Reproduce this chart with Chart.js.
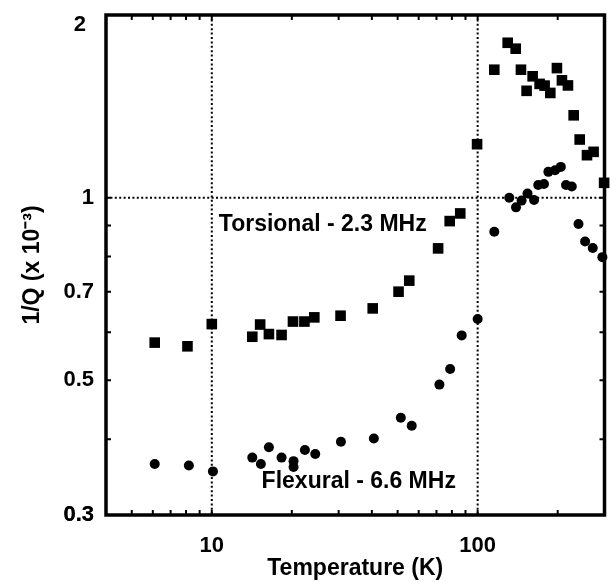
<!DOCTYPE html>
<html>
<head>
<meta charset="utf-8">
<script src="https://cdn.jsdelivr.net/npm/chart.js@4.4.1/dist/chart.umd.min.js"></script>
<style>
  html, body { margin: 0; padding: 0; background: #fff; }
  #chart { display: block; }
</style>
</head>
<body>
<canvas id="chart" width="612" height="582"></canvas>
<script>
// torsional mode, 2.3 MHz (squares)
const torsionalT = [6.1, 8.1, 10, 14.2, 15.2, 16.4, 18.3, 20.2, 22.3, 24.3, 30.5, 40.3, 50.4, 55.3,
  71, 78.5, 86, 99.5, 115.5, 129.7, 139, 145.5, 152.8, 161, 171, 178.6, 187.6, 198.7, 207.5,
  218.6, 229.7, 242, 257.8, 273, 299];
const torsionalQ = [0.577, 0.569, 0.619, 0.59, 0.618, 0.596, 0.594, 0.625, 0.625, 0.635, 0.639, 0.657, 0.70, 0.73,
  0.825, 0.915, 0.942, 1.225, 1.625, 1.80, 1.76, 1.625, 1.50, 1.585, 1.54, 1.53, 1.488, 1.635, 1.561,
  1.531, 1.367, 1.247, 1.175, 1.19, 1.058];

// flexural mode, 6.6 MHz (circles)
const flexuralT = [6.1, 8.2, 10.1, 14.2, 15.3, 16.4, 18.3, 20.3, 20.3, 22.4, 24.5, 30.6, 40.7, 51.4, 56.5,
  71.8, 78.8, 87.1, 100, 115.5, 131.5, 139.4, 146.3, 154, 163, 169, 177.6, 184.5, 195.5, 205.5,
  215, 226, 239.5, 253.6, 271, 294.5];
const flexuralQ = [0.364, 0.362, 0.354, 0.373, 0.364, 0.388, 0.373, 0.368, 0.360, 0.384, 0.378, 0.396, 0.401, 0.434, 0.421,
  0.492, 0.522, 0.593, 0.631, 0.879, 1.0, 0.964, 0.989, 1.016, 0.991, 1.049, 1.053, 1.103, 1.11, 1.124,
  1.049, 1.043, 0.905, 0.847, 0.826, 0.798];

const xTickLabels = [10, 100];
const yTickLabels = [0.3, 0.5, 0.7, 1];
const xMinorTicks = [5, 6, 7, 8, 9, 10, 20, 30, 40, 50, 60, 70, 80, 90, 100, 200];
const yMinorTicks = [0.4, 0.5, 0.6, 0.7, 0.8, 0.9, 1];

const FONT = '"Liberation Sans", Arial, Helvetica, sans-serif';

const toPoints = (xs, ys) => xs.map((x, i) => ({ x: x, y: ys[i] }));

// dotted grid lines, heavy frame with inward ticks, and the text labels
const framePlugin = {
  id: 'frame',
  beforeDatasetsDraw(chart) {
    const { ctx, chartArea: a, scales: { x, y } } = chart;
    ctx.save();
    ctx.strokeStyle = '#000';
    ctx.lineWidth = 2;
    ctx.setLineDash([2, 2.4]);
    xTickLabels.forEach((v) => {
      const px = x.getPixelForValue(v);
      ctx.beginPath();
      ctx.moveTo(px, a.top);
      ctx.lineTo(px, a.bottom);
      ctx.stroke();
    });
    const py = y.getPixelForValue(1);
    ctx.beginPath();
    ctx.moveTo(a.left, py);
    ctx.lineTo(a.right, py);
    ctx.stroke();
    ctx.restore();
  },
  afterDatasetsDraw(chart) {
    const { ctx, chartArea: a, scales: { x, y } } = chart;
    ctx.save();
    ctx.strokeStyle = '#000';
    ctx.lineWidth = 2;
    const tl = 5;
    xMinorTicks.forEach((v) => {
      const px = x.getPixelForValue(v);
      ctx.beginPath();
      ctx.moveTo(px, a.bottom);
      ctx.lineTo(px, a.bottom - tl);
      ctx.moveTo(px, a.top);
      ctx.lineTo(px, a.top + tl);
      ctx.stroke();
    });
    yMinorTicks.forEach((v) => {
      const py = y.getPixelForValue(v);
      ctx.beginPath();
      ctx.moveTo(a.left, py);
      ctx.lineTo(a.left + tl, py);
      ctx.moveTo(a.right, py);
      ctx.lineTo(a.right - tl, py);
      ctx.stroke();
    });
    ctx.lineWidth = 3.5;
    ctx.strokeRect(a.left, a.top, a.right - a.left, a.bottom - a.top);

    ctx.fillStyle = '#000';
    ctx.font = 'bold 23px ' + FONT;
    ctx.textBaseline = 'middle';
    ctx.textAlign = 'left';
    ctx.fillText('Torsional - 2.3 MHz', x.getPixelForValue(10) + 7, y.getPixelForValue(1) + 27);
    ctx.fillText('Flexural - 6.6 MHz', x.getPixelForValue(15) + 3, y.getPixelForValue(0.3) - 33);

    // the "2" label sits a little below its tick in the original
    ctx.font = 'bold 22px ' + FONT;
    ctx.textAlign = 'right';
    ctx.fillText('2', a.left - 20, y.getPixelForValue(2) + 10);
    ctx.restore();
  }
};

new Chart(document.getElementById('chart'), {
  type: 'scatter',
  data: {
    datasets: [
      {
        label: 'Torsional - 2.3 MHz',
        data: toPoints(torsionalT, torsionalQ),
        pointStyle: 'rect',
        pointRadius: 7.5,
        backgroundColor: '#000',
        borderColor: '#000',
        borderWidth: 0
      },
      {
        label: 'Flexural - 6.6 MHz',
        data: toPoints(flexuralT, flexuralQ),
        pointStyle: 'circle',
        pointRadius: 5,
        backgroundColor: '#000',
        borderColor: '#000',
        borderWidth: 0
      }
    ]
  },
  options: {
    responsive: false,
    animation: false,
    clip: false,
    layout: { padding: { top: 15, right: 5, left: 0, bottom: 0 } },
    plugins: {
      legend: { display: false },
      tooltip: { enabled: false }
    },
    scales: {
      x: {
        type: 'logarithmic',
        position: 'bottom',
        min: 4,
        max: 300,
        grid: { display: false, drawTicks: false },
        border: { display: false },
        afterFit: (scale) => {
          scale.height = 67;
          scale.paddingLeft = 0;
          scale.paddingRight = 0;
        },
        ticks: {
          autoSkip: false,
          maxRotation: 0,
          padding: 18,
          color: '#000',
          font: { family: FONT, size: 22, weight: 'bold' },
          callback: (v) => (xTickLabels.includes(v) ? String(v) : '')
        },
        title: {
          display: true,
          text: 'Temperature (K)',
          color: '#000',
          padding: { top: 0, bottom: 0 },
          font: { family: FONT, size: 23, weight: 'bold' }
        }
      },
      y: {
        type: 'logarithmic',
        min: 0.3,
        max: 2,
        grid: { display: false, drawTicks: false },
        border: { display: false },
        afterFit: (scale) => {
          scale.width = 106;
          scale.paddingTop = 0;
          scale.paddingBottom = 0;
        },
        ticks: {
          autoSkip: false,
          padding: 12,
          color: '#000',
          font: { family: FONT, size: 22, weight: 'bold' },
          callback: (v) => (yTickLabels.includes(v) ? String(v) : '')
        },
        title: {
          display: true,
          text: '1/Q (x 10\u207B\u00B3)',
          color: '#000',
          padding: { top: 19, bottom: 0 },
          font: { family: FONT, size: 23, weight: 'bold' }
        }
      }
    }
  },
  plugins: [framePlugin]
});
</script>
</body>
</html>
